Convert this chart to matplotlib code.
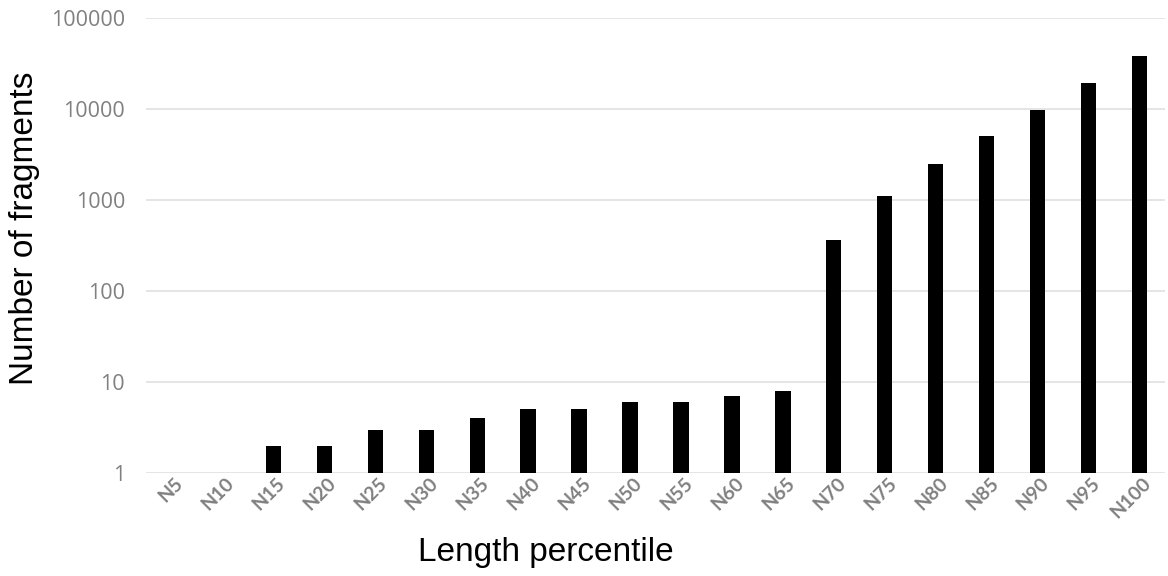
import matplotlib
matplotlib.use("Agg")
import matplotlib.pyplot as plt
import matplotlib.transforms as mtrans
from matplotlib.ticker import FixedLocator, FixedFormatter, NullLocator

categories = ["N5", "N10", "N15", "N20", "N25", "N30", "N35", "N40", "N45", "N50",
              "N55", "N60", "N65", "N70", "N75", "N80", "N85", "N90", "N95", "N100"]
fragments = [1, 1, 2, 2, 3, 3, 4, 5, 5, 6, 6, 7, 8, 365, 1110, 2500, 5100, 9800, 19500, 38500]
y_ticks = [1, 10, 100, 1000, 10000, 100000]
y_tick_labels = ["1", "10", "100", "1000", "10000", "100000"]

W, H = 1168, 576
fig = plt.figure(figsize=(W / 100, H / 100), dpi=100)
ax = fig.add_axes([146 / W, 1 - 473 / H, (1165 - 146) / W, (473 - 18) / H])

x = list(range(len(categories)))
ax.bar(x, fragments, width=0.3, color="black", zorder=3)
ax.set_yscale("log")
ax.set_ylim(1, 100000)
ax.set_xlim(-0.5, len(categories) - 0.5)

ax.yaxis.set_major_locator(FixedLocator(y_ticks))
ax.yaxis.set_major_formatter(FixedFormatter(y_tick_labels))
ax.yaxis.set_minor_locator(NullLocator())
ax.grid(axis="y", color="#e0e0e0", linewidth=1.2, zorder=0)
for s in ax.spines.values():
    s.set_visible(False)
ax.tick_params(axis="y", length=0, pad=15, labelsize=15.5, labelcolor="#808080")
for lab in ax.get_yticklabels():
    lab.set_family("Open Sans")

ax.set_xticks(x)
ax.set_xticklabels(categories, rotation=45, ha="right", va="top",
                   rotation_mode="anchor", fontsize=14, color="#808080",
                   family="Lato", fontweight="bold")
ax.tick_params(axis="x", length=0, pad=1)
offset = mtrans.ScaledTranslation(3 / 100, 0, fig.dpi_scale_trans)
for lab in ax.get_xticklabels():
    lab.set_transform(lab.get_transform() + offset)

fig.text(546 / W, 1 - 553 / H, "Length percentile", ha="center", va="center",
         fontsize=24, family="Liberation Sans", color="black")
fig.text(25 / W, 1 - 228 / H, "Number of fragments", ha="center", va="center",
         rotation=90, fontsize=24, family="Liberation Sans", color="black")

fig.savefig("out.png", dpi=100)
